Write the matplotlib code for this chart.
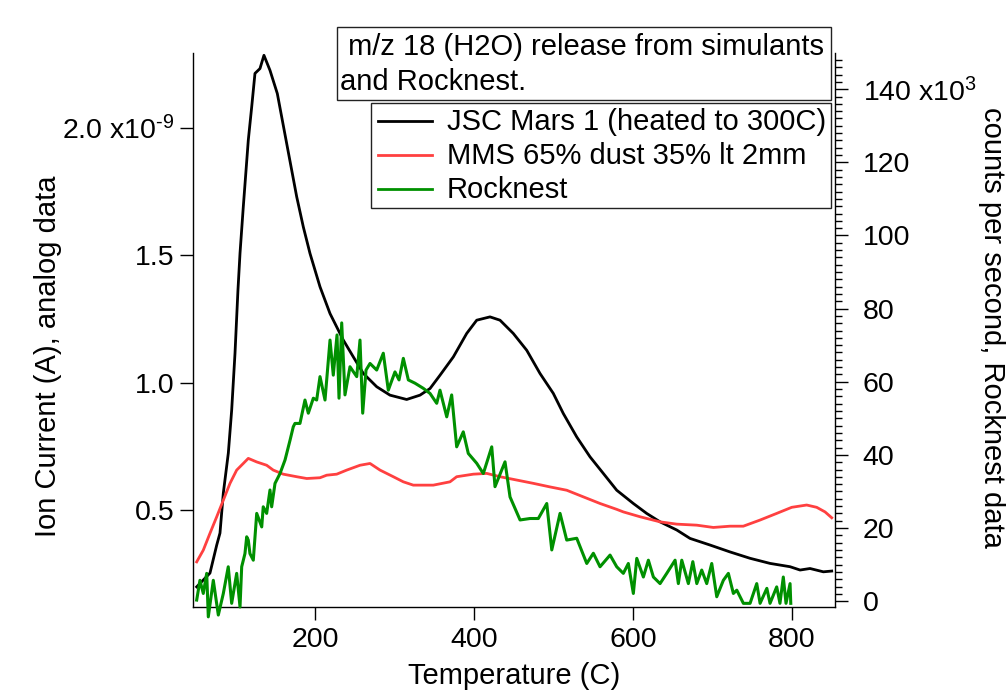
import matplotlib
matplotlib.use('Agg')
import matplotlib.pyplot as plt
from matplotlib.ticker import FuncFormatter, MultipleLocator
from matplotlib.patches import Rectangle
from matplotlib.lines import Line2D

plt.rcParams['font.family'] = ['Liberation Sans', 'DejaVu Sans']
plt.rcParams['mathtext.fontset'] = 'custom'
plt.rcParams['mathtext.rm'] = 'Liberation Sans'
plt.rcParams['mathtext.default'] = 'regular'

# JSC Mars 1 (heated to 300C), ion current in nA (left axis)
jsc_temp = [51.2, 67.9, 76.4, 80.5, 84.7, 91.0, 95.2, 99.4, 103.1, 105.7,
            109.8, 116.1, 120.4, 124.5, 130.8, 135.8, 143.4, 152.6, 164.4, 177.0,
            185.3, 193.7, 206.3, 218.9, 235.6, 248.2, 260.8, 277.6, 294.3, 315.3,
            332.1, 344.7, 357.2, 374.0, 390.8, 403.4, 420.1, 432.7, 449.4, 466.3,
            483.0, 499.7, 512.3, 529.2, 545.9, 562.6, 579.5, 600.4, 617.2, 634.0,
            655.0, 671.7, 696.9, 722.0, 747.2, 772.3, 797.5, 810.1, 822.6, 839.4,
            849.9]
jsc_nA = [0.199, 0.253, 0.363, 0.410, 0.567, 0.724, 0.892, 1.116, 1.363, 1.508,
          1.689, 1.951, 2.082, 2.213, 2.232, 2.284, 2.225, 2.134, 1.938, 1.729,
          1.611, 1.507, 1.376, 1.271, 1.167, 1.101, 1.036, 0.984, 0.951, 0.934,
          0.951, 0.977, 1.029, 1.101, 1.193, 1.245, 1.258, 1.245, 1.193, 1.127,
          1.036, 0.958, 0.879, 0.787, 0.709, 0.644, 0.578, 0.526, 0.487, 0.454,
          0.422, 0.389, 0.363, 0.336, 0.311, 0.291, 0.278, 0.265, 0.271, 0.258,
          0.261]

# MMS 65% dust 35% lt 2mm, ion current in nA (left axis)
mms_temp = [51.2, 59.5, 67.9, 76.4, 84.7, 93.1, 101.5, 109.8, 116.1, 126.7,
            139.2, 147.5, 160.1, 177.0, 189.6, 206.3, 214.7, 227.3, 239.9, 256.6,
            269.2, 281.8, 298.5, 311.1, 323.6, 348.8, 369.8, 378.2, 399.1, 416.0,
            432.7, 453.7, 474.6, 495.6, 516.6, 537.5, 558.5, 579.5, 587.8, 608.8,
            634.0, 655.0, 680.1, 701.0, 722.0, 738.7, 759.7, 780.6, 799.6, 818.4,
            831.0, 841.5, 849.9]
mms_nA = [0.297, 0.343, 0.409, 0.474, 0.539, 0.605, 0.657, 0.683, 0.703, 0.689,
          0.676, 0.657, 0.641, 0.631, 0.624, 0.627, 0.637, 0.641, 0.657, 0.676,
          0.683, 0.657, 0.631, 0.611, 0.598, 0.598, 0.611, 0.631, 0.641, 0.644,
          0.631, 0.618, 0.605, 0.591, 0.578, 0.552, 0.526, 0.503, 0.493, 0.474,
          0.454, 0.445, 0.441, 0.432, 0.437, 0.437, 0.461, 0.487, 0.511, 0.520,
          0.511, 0.493, 0.470]

# Rocknest, counts per second in thousands (right axis)
rock_temp = [51.2, 55.3, 59.5, 63.8, 65.8, 72.1, 78.4, 84.7, 90.9, 95.2,
             101.5, 105.7, 107.8, 111.9, 114.1, 116.1, 118.2, 122.4, 126.7, 133.0,
             134.9, 139.2, 143.4, 145.5, 149.7, 156.0, 162.3, 168.6, 172.7, 174.8,
             181.1, 187.4, 191.6, 197.9, 202.1, 206.3, 212.6,
             218.9, 223.0, 227.7, 230.2, 233.6, 237.7, 244.0, 252.5, 256.6, 260.0,
             264.2, 269.2, 277.6, 285.9, 292.2, 300.6, 305.7, 311.1, 317.4, 325.8,
             336.2, 344.7, 353.1, 357.2, 365.7, 371.9, 378.2, 386.5, 392.8, 403.4,
             411.7, 422.3, 426.4, 439.0, 445.3, 457.9, 470.4, 480.9, 491.5, 497.8,
             508.2, 516.6, 529.2, 541.8, 550.1, 558.5, 571.1, 579.5, 587.8, 594.1,
             600.4, 604.7, 613.0, 619.3, 625.6, 634.0, 642.4, 652.9, 657.0, 661.3,
             669.6, 675.2, 680.2, 686.4, 692.7, 699.0, 705.3, 713.6, 719.9, 726.2,
             730.5, 738.8, 747.2, 755.6, 759.8, 768.3, 772.3, 780.7, 784.8, 789.0,
             792.4, 797.5, 798.4]
rock_kcps = [0.3, 5.7, 2.1, 7.6, -4.3, 5.7, -3.8, 2.1, 9.4, -0.6,
             7.6, -1.6, 9.4, 13.0, 17.6, 16.7, 13.0, 11.2, 24.0, 20.3,
             25.8, 24.0, 30.4, 25.8, 32.2, 34.9, 38.6, 44.0, 47.7, 48.6,
             48.6, 55.0, 51.4, 55.5, 55.0, 61.4, 55.0,
             71.4, 61.8, 72.8, 55.5, 76.1, 56.4, 64.1, 61.4, 71.4, 51.4,
             63.2, 65.0, 63.2, 67.8, 57.7, 62.7, 60.5, 66.4, 60.5, 59.6,
             58.2, 56.8, 54.1, 57.7, 50.4, 56.4, 42.2, 46.3, 40.4, 37.7,
             34.9, 42.2, 31.3, 38.1, 28.5, 22.2, 22.6, 22.6, 26.7, 14.0,
             24.0, 16.7, 17.2, 10.3, 13.1, 9.4, 12.6, 9.4, 7.6, 10.3,
             2.1, 11.7, 6.6, 11.2, 6.6, 4.8, 7.6, 11.2, 4.8, 11.2,
             4.8, 10.8, 4.8, 8.5, 4.8, 10.3, 1.2, 5.7, 7.6, 2.1,
             3.0, -0.6, -0.6, 4.8, -0.6, 3.5, -0.6, 3.9, -0.6, 6.6,
             -0.6, 4.8, -0.6]

labels = ['JSC Mars 1 (heated to 300C)', 'MMS 65% dust 35% lt 2mm', 'Rocknest']
colors = ['#000000', '#ff4040', '#009000']
left_ticks = [0.5, 1.0, 1.5, 2.0]
x_ticks = [200, 400, 600, 800]

fig = plt.figure(figsize=(10.06, 6.93), dpi=100)
ax = fig.add_axes([0.1918, 0.1241, 0.6382, 0.7994])
ax2 = ax.twinx()

l1, = ax.plot(jsc_temp, [v * 1e-9 for v in jsc_nA], color=colors[0], lw=2)
l2, = ax.plot(mms_temp, [v * 1e-9 for v in mms_nA], color=colors[1], lw=2)
l3, = ax2.plot(rock_temp, [v * 1000 for v in rock_kcps], color=colors[2], lw=2.2,
               clip_on=False)

ax.set_xlim(46.5, 854)
ax.set_ylim(0.12e-9, 2.293e-9)
ax2.set_ylim(-1600, 149900)

ax.set_xticks(x_ticks)
ax.set_yticks([v * 1e-9 for v in left_ticks])


def left_fmt(v, pos):
    s = '%.1f' % (v * 1e9)
    if abs(v * 1e9 - 2.0) < 1e-6:
        s += r' x10$^{\text{-9}}$'
    return s


def right_fmt(v, pos):
    s = '%d' % round(v / 1000)
    if round(v / 1000) == 140:
        s += r' x10$^{3}$'
    return s


ax.yaxis.set_major_formatter(FuncFormatter(left_fmt))
ax2.yaxis.set_major_locator(MultipleLocator(20000))
ax2.yaxis.set_minor_locator(MultipleLocator(2000))
ax2.yaxis.set_major_formatter(FuncFormatter(right_fmt))

for a in (ax, ax2):
    a.spines['top'].set_visible(False)
    for s in a.spines.values():
        s.set_linewidth(1.0)
ax.spines['right'].set_visible(False)
ax2.spines['left'].set_visible(False)
ax2.spines['bottom'].set_visible(False)

ax.tick_params(axis='x', direction='out', length=9.4, width=1, labelsize=20.5, pad=5)
ax.tick_params(axis='y', direction='out', length=9.4, width=1, labelsize=20.5, pad=4)
ax2.tick_params(axis='y', which='major', direction='out', length=9, width=1,
                labelsize=20.5, pad=11)
ax2.tick_params(axis='y', which='minor', direction='out', length=5, width=1)

fig.text(0.511, 1 - 676 / 693, 'Temperature (C)', fontsize=21, ha='center', va='center')
fig.text(0.048, 0.486, 'Ion Current (A), analog data', fontsize=21,
         ha='center', va='center', rotation=90)
fig.text(0.986, 0.527, 'counts per second, Rocknest data', fontsize=21,
         ha='center', va='center', rotation=270)

# title box
fig.patches.append(Rectangle((0.335, 0.8557), 0.491, 0.1053, transform=fig.transFigure,
                             fill=False, edgecolor='#222222', lw=1))
fig.text(0.338, 1 - 55 / 693, ' m/z 18 (H2O) release from simulants', fontsize=21,
         va='baseline', ha='left')
fig.text(0.338, 1 - 90 / 693, 'and Rocknest.', fontsize=21, va='baseline', ha='left')

# legend box
fig.patches.append(Rectangle((371 / 1006, 1 - 208 / 693), 460 / 1006, 105 / 693,
                             transform=fig.transFigure, fill=False,
                             edgecolor='#222222', lw=1))
for i, (lab, col) in enumerate(zip(labels, colors)):
    yb = 130 + 34 * i
    yc = 121 + 34 * i
    fig.add_artist(Line2D([378 / 1006, 432 / 1006], [1 - yc / 693, 1 - yc / 693],
                          color=col, lw=2, transform=fig.transFigure))
    fig.text(447 / 1006, 1 - yb / 693, lab, fontsize=21, va='baseline', ha='left')

fig.savefig('out.png', dpi=100)
